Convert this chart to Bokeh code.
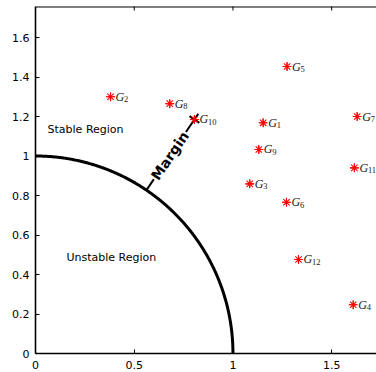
import numpy as np
from bokeh.plotting import figure
from bokeh.models import FixedTicker, Range1d, ColumnDataSource, PrintfTickFormatter, Span
from bokeh.core.properties import value
from bokeh.embed import file_html
from bokeh.resources import INLINE

# ---- data ----
gen_ids = ["1", "2", "3", "4", "5", "6", "7", "8", "9", "10", "11", "12"]
gen_x = [1.153, 0.380, 1.085, 1.609, 1.274, 1.271, 1.629, 0.680, 1.131, 0.805, 1.615, 1.332]
gen_y = [1.168, 1.300, 0.859, 0.247, 1.453, 0.766, 1.200, 1.265, 1.033, 1.185, 0.940, 0.476]

x_ticks = [0, 0.5, 1, 1.5]
x_tick_labels = ["0", "0.5", "1", "1.5"]
y_ticks = [0, 0.2, 0.4, 0.6, 0.8, 1, 1.2, 1.4, 1.6]
y_tick_labels = ["0", "0.2", "0.4", "0.6", "0.8", "1", "1.2", "1.4", "1.6"]

region_labels = ["Stable Region", "Unstable Region"]
region_x = [0.061, 0.157]
region_y = [1.132, 0.484]

margin_label = "Margin"
margin_target = "10"
boundary_radius = 1.0

X_END, Y_END = 1.727, 1.757

# ---- figure ----
p = figure(width=376, height=372, x_range=Range1d(0, X_END), y_range=Range1d(0, Y_END),
           output_backend="svg", toolbar_location=None,
           min_border_left=35, min_border_right=0, min_border_top=6, min_border_bottom=19)
p.outline_line_color = None
p.grid.visible = False
p.background_fill_color = "white"

def style_axis(ax, ticks, labels):
    ax.ticker = FixedTicker(ticks=ticks)
    ax.formatter = PrintfTickFormatter(format="%g")
    ax.major_label_overrides = {t: l for t, l in zip(ticks, labels)}
    ax.major_tick_in = 4
    ax.major_tick_out = 0
    ax.minor_tick_line_color = None
    ax.axis_line_width = 1.6
    ax.axis_line_color = "black"
    ax.major_tick_line_color = "black"
    ax.major_tick_line_width = 1
    ax.major_label_text_font = "DejaVu Sans"
    ax.major_label_text_font_size = "11px"
    ax.major_label_text_color = "black"

style_axis(p.xaxis[0], x_ticks, x_tick_labels)
p.xaxis[0].major_label_standoff = 7
style_axis(p.yaxis[0], y_ticks, y_tick_labels)
p.yaxis[0].major_label_standoff = 6

# top border with inward ticks
p.add_layout(Span(location=Y_END, dimension="width", line_color="black", line_width=2))
p.scatter(x=x_ticks[1:], y=[Y_END] * (len(x_ticks) - 1), marker="dash", angle=np.pi / 2,
          size=8, line_color="black", line_width=1)

# stability boundary (unit circle arc)
theta = np.linspace(0, np.pi / 2, 300)
p.line(boundary_radius * np.cos(theta), boundary_radius * np.sin(theta), line_width=3, color="black")

# margin line to the closest generator
k = gen_ids.index(margin_target)
gx, gy = gen_x[k], gen_y[k]
rg = np.hypot(gx, gy)
ux, uy = gx / rg, gy / rg
nx, ny = -uy, ux
p.line([boundary_radius * ux, (rg + 0.035) * ux], [boundary_radius * uy, (rg + 0.035) * uy],
       line_width=2, color="black")
p.line([gx - 0.03 * nx, gx + 0.03 * nx], [gy - 0.03 * ny, gy + 0.03 * ny], line_width=2.2, color="black")
rm = (boundary_radius + rg) / 2 - 0.005
p.text(x=[rm * ux], y=[rm * uy], text=[margin_label], angle=np.arctan2(gy, gx),
       text_font=value("DejaVu Sans"), text_font_style="bold", text_font_size="14px",
       text_align="center", text_baseline="middle", text_color="black",
       background_fill_color="white", padding=1)

# generators
src = ColumnDataSource(dict(x=gen_x, y=gen_y, g=["G"] * len(gen_ids), sub=gen_ids))
p.scatter("x", "y", source=src, marker="asterisk", size=9, line_color="#ff0000", line_width=1.1)
p.scatter("x", "y", source=src, marker="cross", size=8, line_color="#ff0000", line_width=1.1)
p.text("x", "y", text="g", source=src, x_offset=5, y_offset=0,
       text_font=value("Liberation Serif"), text_font_style="italic", text_font_size="12px",
       text_align="left", text_baseline="alphabetic", text_color="#222222")
p.text("x", "y", text="sub", source=src, x_offset=13.5, y_offset=2.5,
       text_font=value("Liberation Serif"), text_font_size="8.5px",
       text_align="left", text_baseline="alphabetic", text_color="#222222")

# region labels
p.text(x=region_x, y=region_y, text=region_labels, text_font=value("DejaVu Sans"),
       text_font_size="11px", text_align="left", text_baseline="alphabetic", text_color="black")

open("out.html", "w").write(file_html(p, INLINE))
